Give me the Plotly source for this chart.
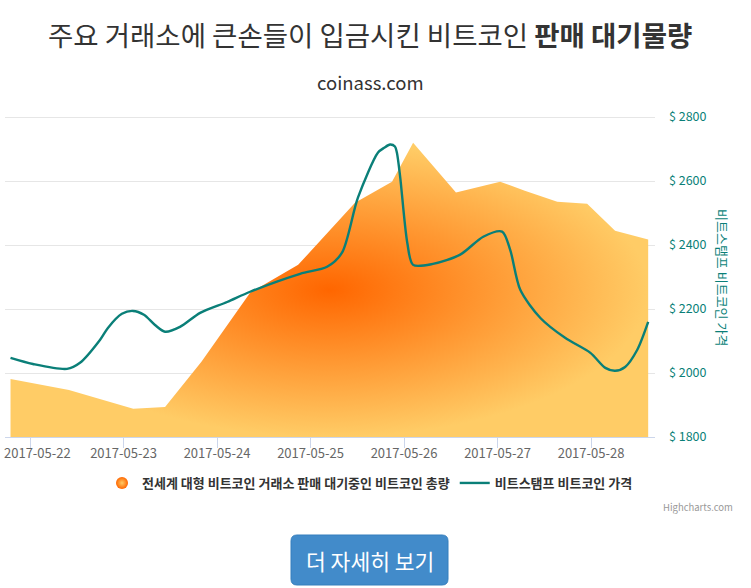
import plotly.graph_objects as go

title_text = '주요 거래소에 큰손들이 입금시킨 비트코인 <b>판매 대기물량</b>'
subtitle_text = 'coinass.com'
area_name = '전세계 대형 비트코인 거래소 판매 대기중인 비트코인 총량'
line_name = '비트스탬프 비트코인 가격'
axis_title = '비트스탬프 비트코인 가격'
button_text = '더 자세히 보기'

area_dates = ['2017-05-21 19:00', '2017-05-22 10:00', '2017-05-23 02:30', '2017-05-23 10:40',
              '2017-05-23 20:00', '2017-05-24 08:30', '2017-05-24 20:50', '2017-05-25 11:25',
              '2017-05-25 20:55', '2017-05-26 02:20', '2017-05-26 13:20', '2017-05-27 00:40',
              '2017-05-27 07:00', '2017-05-27 15:20', '2017-05-27 23:00', '2017-05-28 06:10',
              '2017-05-28 14:40']
area_values = [1981, 1947, 1888, 1894, 2035, 2251, 2338, 2532, 2598, 2720, 2564, 2598,
               2570, 2535, 2529, 2445, 2417]

price_dates = ['2017-05-21 19:00', '2017-05-22 00:45', '2017-05-22 09:30', '2017-05-22 12:50',
               '2017-05-22 18:00', '2017-05-22 20:00', '2017-05-22 23:35', '2017-05-23 02:25',
               '2017-05-23 05:15', '2017-05-23 08:05', '2017-05-23 10:40', '2017-05-23 14:30',
               '2017-05-23 19:40', '2017-05-24 02:35', '2017-05-24 08:30', '2017-05-24 21:20',
               '2017-05-25 04:15', '2017-05-25 08:05', '2017-05-25 12:10', '2017-05-25 17:20',
               '2017-05-25 18:55', '2017-05-25 20:25', '2017-05-25 21:40', '2017-05-25 22:10',
               '2017-05-25 23:00', '2017-05-26 00:50', '2017-05-26 02:20', '2017-05-26 07:25',
               '2017-05-26 14:25', '2017-05-26 20:20', '2017-05-27 01:10', '2017-05-27 03:15',
               '2017-05-27 05:50', '2017-05-27 11:00', '2017-05-27 17:20', '2017-05-27 23:50',
               '2017-05-28 03:40', '2017-05-28 06:10', '2017-05-28 08:45', '2017-05-28 11:50',
               '2017-05-28 14:40']
price_values = [2047, 2028, 2013, 2032, 2104, 2141, 2185, 2194, 2182, 2150, 2129, 2144,
                2188, 2222, 2254, 2310, 2332, 2376, 2548, 2689, 2704, 2714, 2708, 2689,
                2614, 2407, 2338, 2341, 2370, 2426, 2442, 2385, 2260, 2172, 2110, 2063,
                2016, 2007, 2019, 2072, 2160]

tick_dates = ['2017-05-22', '2017-05-23', '2017-05-24', '2017-05-25', '2017-05-26', '2017-05-27', '2017-05-28']
price_ticks = [1800, 2000, 2200, 2400, 2600, 2800]

FONT = 'Noto Sans CJK KR'
TEAL = '#0a7f78'
W, H = 751, 588
# plot box in page pixels; the top sits above the 2800 line so its gridline is drawn
LEFT, RIGHT, TOP, BOTTOM = 5, 655, 110, 437

fig = go.Figure()

# closed polygon so the gradient box ends at the axis floor
fig.add_trace(go.Scatter(
    x=area_dates + [area_dates[-1], area_dates[0]],
    y=area_values + [price_ticks[0], price_ticks[0]],
    mode='lines', line=dict(width=0), fill='toself', hoverinfo='skip', showlegend=False,
    fillgradient=dict(type='radial', colorscale=[[0, '#ff6600'], [1, '#ffcc66']]),
))
# legend entry for the area
fig.add_trace(go.Scatter(
    x=[None], y=[None], mode='markers', name=area_name,
    marker=dict(size=12, color='#ff6600', gradient=dict(type='radial', color='#ffcc66')),
))
fig.add_trace(go.Scatter(
    x=price_dates, y=price_values, mode='lines', name=line_name,
    line=dict(color=TEAL, width=2.4, shape='spline', smoothing=0.8),
))


# paper coords are relative to the plot box
def px(x):
    return (x - LEFT) / (RIGHT - LEFT)


def py(y):
    return (BOTTOM - y) / (BOTTOM - TOP)


bx0, bx1, by0, by1, r = 291, 448, 535, 585, 6
button_path = (f'M {px(bx0 + r)} {py(by0)} L {px(bx1 - r)} {py(by0)} Q {px(bx1)} {py(by0)} {px(bx1)} {py(by0 + r)} '
               f'L {px(bx1)} {py(by1 - r)} Q {px(bx1)} {py(by1)} {px(bx1 - r)} {py(by1)} '
               f'L {px(bx0 + r)} {py(by1)} Q {px(bx0)} {py(by1)} {px(bx0)} {py(by1 - r)} '
               f'L {px(bx0)} {py(by0 + r)} Q {px(bx0)} {py(by0)} {px(bx0 + r)} {py(by0)} Z')

fig.update_layout(
    width=W, height=H, autosize=False,
    margin=dict(l=LEFT, r=W - RIGHT, t=TOP, b=H - BOTTOM),
    paper_bgcolor='white', plot_bgcolor='white',
    font=dict(family=FONT),
    xaxis=dict(
        range=['2017-05-21 17:35', '2017-05-28 16:25'], automargin=False,
        # first label is placed below as an annotation, pushed inside the left edge
        tickvals=tick_dates, ticktext=[''] + tick_dates[1:],
        ticklabelstandoff=-6,
        showgrid=False, showline=True, linecolor='#ccd6eb', ticks='outside', ticklen=10,
        tickcolor='#ccd6eb', tickfont=dict(size=13, color='#666666', family=FONT), zeroline=False,
    ),
    yaxis=dict(
        range=[1800, 2822], side='right', tickvals=price_ticks, automargin=False,
        ticktext=[f'$ {v}' for v in price_ticks], ticklabelstandoff=13,
        gridcolor='#e6e6e6', gridwidth=1, zeroline=False, ticks='',
        tickfont=dict(size=12.5, color=TEAL, family=FONT),
    ),
    legend=dict(
        orientation='h', xanchor='center', yanchor='middle', x=px(370), y=py(483),
        xref='paper', yref='paper', font=dict(size=13, color='#333333', family=FONT, weight=700),
        bgcolor='rgba(0,0,0,0)',
    ),
    shapes=[dict(type='path', xref='paper', yref='paper', path=button_path, fillcolor='#428bca',
                 line=dict(color='#357ebd', width=1), layer='above')],
    annotations=[
        dict(text=tick_dates[0], x=px(5), y=py(452), xref='paper', yref='paper', showarrow=False,
             xanchor='left', yanchor='middle', borderpad=0, borderwidth=0, xshift=-1,
             font=dict(size=13, color='#666666', family=FONT)),
        dict(text=title_text, x=px(370), y=py(34), xref='paper', yref='paper', showarrow=False,
             xanchor='center', yanchor='middle', font=dict(size=27.5, color='#333333', family=FONT)),
        dict(text=subtitle_text, x=px(370), y=py(82), xref='paper', yref='paper', showarrow=False,
             xanchor='center', yanchor='middle', font=dict(size=18.5, color='#333333', family=FONT)),
        dict(text=axis_title, x=px(723), y=py(277), xref='paper', yref='paper', showarrow=False,
             textangle=90, xanchor='center', yanchor='middle', font=dict(size=13, color=TEAL, family=FONT)),
        dict(text='Highcharts.com', x=px(735), y=py(507), xref='paper', yref='paper', showarrow=False,
             xanchor='right', yanchor='middle', font=dict(size=9.5, color='#999999', family=FONT)),
        dict(text=button_text, x=px(370), y=py(560), xref='paper', yref='paper', showarrow=False,
             xanchor='center', yanchor='middle', font=dict(size=21.5, color='white', family=FONT)),
    ],
)

fig.write_html('out.html', config=dict(displayModeBar=False), post_script="document.body.style.margin='0';")
